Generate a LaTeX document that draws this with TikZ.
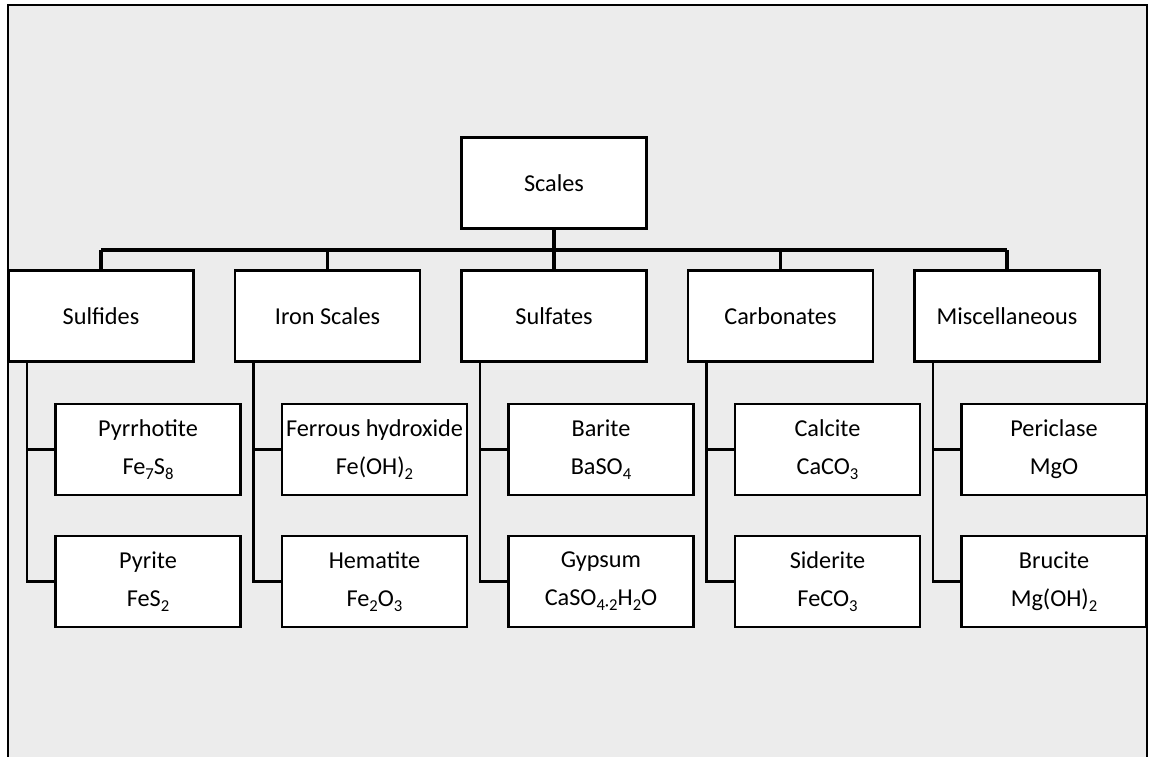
\documentclass[tikz,border=0pt]{standalone}
\usepackage{fontspec}
\setmainfont{Carlito}
\usetikzlibrary{calc}
\definecolor{bgc}{HTML}{ECECEC}
\newcommand\chsub[1]{\raisebox{-0.45ex}{\fontsize{12.5}{12.5}\selectfont #1}}
\begin{document}
\begin{tikzpicture}[x=0.75pt,y=-0.75pt,
  cat/.style={draw=black, fill=white, line width=1.9pt, minimum width=139pt, minimum height=68pt,
    inner sep=0pt, align=center, font=\fontsize{18.2}{21}\selectfont},
  leaf/.style={cat, font=\fontsize{18.2}{28.5}\selectfont},
  busline/.style={line width=2.7pt},
  stem/.style={line width=2.5pt},
  link/.style={line width=1.8pt}]
\useasboundingbox (0,0) rectangle (1149,757);
% background and frame
\fill[bgc] (8,5) rectangle (1147,757);
\draw[line width=1.1pt] (7,5) -- (1148,5);
\draw[line width=2pt] (8,5) -- (8,757);
\draw[line width=1.5pt] (1147,5) -- (1147,757);
% nodes
\node[cat] (scales) at (554,183) {Scales};
\node[cat] (t1) at (101,316) {Sulfides};
\node[cat] (t2) at (327.5,316) {Iron Scales};
\node[cat] (t3) at (554,316) {Sulfates};
\node[cat] (t4) at (780.5,316) {Carbonates};
\node[cat] (t5) at (1007,316) {Miscellaneous};
\node[leaf] (a1) at (148,449.5) {Pyrrhotite\\Fe\chsub{7}S\chsub{8}};
\node[leaf] (b1) at (148,581.5) {Pyrite\\FeS\chsub{2}};
\node[leaf] (a2) at (374.5,449.5) {Ferrous hydroxide\\Fe(OH)\chsub{2}};
\node[leaf] (b2) at (374.5,581.5) {Hematite\\Fe\chsub{2}O\chsub{3}};
\node[leaf] (a3) at (601,449.5) {Barite\\BaSO\chsub{4}};
\node[leaf] (b3) at (601,581.5) {Gypsum\\CaSO\chsub{4·2}H\chsub{2}O};
\node[leaf] (a4) at (827.5,449.5) {Calcite\\CaCO\chsub{3}};
\node[leaf] (b4) at (827.5,581.5) {Siderite\\FeCO\chsub{3}};
\node[leaf] (a5) at (1054,449.5) {Periclase\\MgO};
\node[leaf] (b5) at (1054,581.5) {Brucite\\Mg(OH)\chsub{2}};
% bus
\coordinate (bus) at (554,250);
\draw[busline] (t1.north |- bus) -- (t5.north |- bus);
\draw[line width=3.1pt] (scales.south) -- (bus);
\foreach \i in {1,...,5}{
  \draw[stem] (t\i.north) -- (t\i.north |- bus);
  \coordinate (v\i) at ($(t\i.south west)+(20,0)$);
  \draw[link] (v\i) |- (a\i.west);
  \draw[link] (v\i) |- (b\i.west);
}
\end{tikzpicture}
\end{document}
